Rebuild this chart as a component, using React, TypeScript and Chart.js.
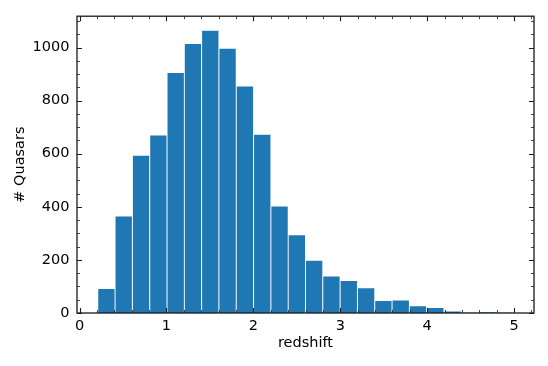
import React, { useEffect, useRef } from "react";
import { Chart, registerables } from "chart.js";

Chart.register(...registerables);

// Histogram bin edges (redshift) and counts per bin
const binEdges = [
  0.21, 0.409, 0.608, 0.808, 1.007, 1.206, 1.405, 1.604, 1.803, 2.003, 2.202,
  2.401, 2.6, 2.799, 2.998, 3.198, 3.397, 3.596, 3.795, 3.994, 4.193, 4.393,
  4.592, 4.791, 4.99,
];
const counts = [
  92, 365, 594, 670, 906, 1015, 1065, 997, 855, 673, 403, 295, 199, 139, 122,
  95, 47, 49, 27, 21, 7, 1, 3, 1,
];
const xTicks = [0, 1, 2, 3, 4, 5];
const yTicks = [0, 200, 400, 600, 800, 1000];
const xMinorStep = 0.2;
const yMinorStep = 50;
const xRange = [-0.029, 5.229];
const yRange = [0, 1118];
const xLabel = "redshift";
const yLabel = "# Quasars";

const FONT = "'DejaVu Sans', sans-serif";
const FS = 14.5;

const tickPlugin = {
  id: "mplFrame",
  afterDraw(chart: any) {
    const { ctx, chartArea } = chart;
    const { left, right, top, bottom } = chartArea;
    const xs = chart.scales.x;
    const ys = chart.scales.y;
    ctx.save();
    ctx.strokeStyle = "#1a1a1a";
    // minor ticks
    ctx.lineWidth = 0.8;
    ctx.beginPath();
    for (let v = 0; v <= xs.max + 1e-9; v += xMinorStep) {
      const r = Math.round(v * 1000) / 1000;
      if (Math.abs(r - Math.round(r)) < 1e-6) continue;
      const px = Math.round(xs.getPixelForValue(r)) + 0.5;
      ctx.moveTo(px, bottom);
      ctx.lineTo(px, bottom - 3);
      ctx.moveTo(px, top);
      ctx.lineTo(px, top + 3);
    }
    for (let v = 0; v <= ys.max + 1e-9; v += yMinorStep) {
      if (v % 200 === 0) continue;
      const py = Math.round(ys.getPixelForValue(v)) + 0.5;
      ctx.moveTo(left, py);
      ctx.lineTo(left + 3, py);
      ctx.moveTo(right, py);
      ctx.lineTo(right - 3, py);
    }
    ctx.stroke();
    // major ticks
    ctx.lineWidth = 1.1;
    ctx.beginPath();
    for (const v of xTicks) {
      const px = Math.round(xs.getPixelForValue(v)) + 0.5;
      ctx.moveTo(px, bottom);
      ctx.lineTo(px, bottom - 5);
      ctx.moveTo(px, top);
      ctx.lineTo(px, top + 5);
    }
    for (const v of yTicks) {
      const py = Math.round(ys.getPixelForValue(v)) + 0.5;
      ctx.moveTo(left, py);
      ctx.lineTo(left + 5, py);
      ctx.moveTo(right, py);
      ctx.lineTo(right - 5, py);
    }
    ctx.stroke();
    // frame
    ctx.lineWidth = 1.3;
    ctx.strokeStyle = "#1a1a1a";
    ctx.strokeRect(left, top, right - left, bottom - top);
    ctx.restore();
  },
};

export default function App() {
  const ref = useRef<HTMLCanvasElement | null>(null);
  useEffect(() => {
    if (!ref.current) return;
    const data = counts.map((c, i) => ({
      x: (binEdges[i] + binEdges[i + 1]) / 2,
      y: c,
    }));
    const chart = new Chart(ref.current, {
      type: "bar",
      data: {
        datasets: [
          {
            data,
            backgroundColor: "#1f77b4",
            borderColor: "#ffffff",
            borderWidth: 0.8,
            barPercentage: 1,
            categoryPercentage: 1,
          },
        ],
      },
      options: {
        animation: false,
        responsive: false,
        events: [],
        layout: { padding: { top: 14, right: 14, left: 0, bottom: 0 } },
        plugins: { legend: { display: false }, tooltip: { enabled: false } },
        scales: {
          x: {
            type: "linear",
            offset: false,
            min: xRange[0],
            max: xRange[1],
            grid: { display: false, drawTicks: false },
            border: { display: false },
            afterBuildTicks: (s: any) => {
              s.ticks = xTicks.map((v) => ({ value: v }));
            },
            afterFit: (s: any) => {
              s.height = 53;
            },
            ticks: {
              padding: 4.5,
              color: "#000",
              maxRotation: 0,
              font: { family: FONT, size: FS },
              callback: (v: any) => String(v),
            },
            title: {
              display: true,
              text: xLabel,
              color: "#000",
              font: { family: FONT, size: FS },
              padding: { top: 0, bottom: 14.3 },
            },
          },
          y: {
            type: "linear",
            min: yRange[0],
            max: yRange[1],
            grid: { display: false, drawTicks: false },
            border: { display: false },
            afterBuildTicks: (s: any) => {
              s.ticks = yTicks.map((v) => ({ value: v }));
            },
            afterFit: (s: any) => {
              s.width = 77;
            },
            ticks: {
              padding: 7.5,
              color: "#000",
              font: { family: FONT, size: FS },
              callback: (v: any) => String(v),
            },
            title: {
              display: true,
              text: yLabel,
              color: "#000",
              font: { family: FONT, size: FS },
              padding: { top: 11.3, bottom: 0 },
            },
          },
        },
      },
      plugins: [tickPlugin],
    });
    return () => chart.destroy();
  }, []);
  return (
    <div
      style={{
        position: "fixed",
        left: 0,
        top: 0,
        width: 548,
        height: 366,
        background: "#fff",
      }}
    >
      <canvas ref={ref} width={548} height={366} />
    </div>
  );
}
